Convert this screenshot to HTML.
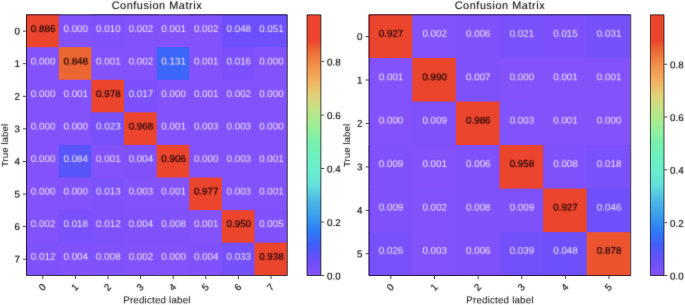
<!DOCTYPE html>
<html><head><meta charset="utf-8"><title>Confusion Matrix</title><style>
html,body{margin:0;padding:0;background:#fff}
body{width:685px;height:305px;position:relative;overflow:hidden;font-family:"Liberation Sans",sans-serif;color:#2b2b2b}
div{position:absolute;white-space:nowrap;line-height:12px;filter:blur(0.3px)}
div>span{display:inline-block;color:transparent;text-shadow:0 0 1.1px #262626,0 0 1.1px rgba(38,38,38,0.25)}
svg{position:absolute;left:0;top:0}
.ct{width:40px;height:20px;line-height:20px;text-align:center;font-size:9.8px;letter-spacing:0.0px}
.yl>span,.xl>span,.cl>span{text-shadow:0 0 1.1px #262626,0 0 1.1px rgba(38,38,38,0.6)}
.title>span{text-shadow:0 0 1.1px #262626,0 0 1.1px rgba(38,38,38,0.45)}
.ct.w>span{text-shadow:0 0 1.2px #ebe2ff,0 0 1.2px rgba(235,226,255,0.3)}
.ct.d>span{text-shadow:0 0 1.2px #2c0a06,0 0 1.2px rgba(44,10,6,0.6)}
.yl{width:20px;text-align:right;font-size:9.8px}
.xl{width:20px;text-align:center;font-size:9.8px}
.cl{font-size:9.8px;letter-spacing:0.05px}
.title{width:160px;text-align:center;font-size:10.9px;line-height:14px;letter-spacing:0.55px}
.xlab{width:160px;text-align:center;font-size:9.8px;letter-spacing:0.18px}
.ylab{width:80px;text-align:center;font-size:9.8px;letter-spacing:0.0px}
</style></head>
<body>
<svg width="685" height="305" viewBox="0 0 685 305">
<clipPath id="c1"><rect x="26.2" y="14.6" width="260.90" height="260.65"/></clipPath><g clip-path="url(#c1)">
<rect x="24.2" y="12.6" width="264.90" height="264.65" fill="#8352fb"/>
<rect x="24.20" y="12.60" width="34.61" height="34.58" fill="#ec452e"/>
<rect x="91.43" y="12.60" width="33.31" height="34.58" fill="#7f52fb"/>
<rect x="124.04" y="12.60" width="32.61" height="35.28" fill="#8252fb"/>
<rect x="189.26" y="12.60" width="33.31" height="34.58" fill="#8252fb"/>
<rect x="221.88" y="12.60" width="33.31" height="35.28" fill="#6e50fa"/>
<rect x="254.49" y="12.60" width="34.61" height="34.58" fill="#6d50fa"/>
<rect x="58.81" y="47.18" width="32.61" height="32.58" fill="#ec6634"/>
<rect x="124.04" y="47.18" width="33.31" height="33.28" fill="#8252fb"/>
<rect x="156.65" y="47.18" width="32.61" height="32.58" fill="#3c67f9"/>
<rect x="221.88" y="47.18" width="32.61" height="33.28" fill="#7c51fb"/>
<rect x="91.43" y="79.76" width="33.31" height="33.28" fill="#ec452e"/>
<rect x="124.04" y="79.76" width="32.61" height="33.28" fill="#7c51fb"/>
<rect x="221.88" y="79.76" width="32.61" height="33.28" fill="#8252fb"/>
<rect x="91.43" y="112.34" width="33.31" height="32.58" fill="#7951fb"/>
<rect x="124.04" y="112.34" width="32.61" height="33.28" fill="#ec452e"/>
<rect x="189.26" y="112.34" width="33.31" height="32.58" fill="#8252fb"/>
<rect x="221.88" y="112.34" width="32.61" height="33.28" fill="#8252fb"/>
<rect x="58.81" y="144.92" width="32.61" height="32.58" fill="#5856fa"/>
<rect x="124.04" y="144.92" width="33.31" height="33.28" fill="#8152fb"/>
<rect x="156.65" y="144.92" width="32.61" height="32.58" fill="#ec452e"/>
<rect x="221.88" y="144.92" width="32.61" height="33.28" fill="#8252fb"/>
<rect x="91.43" y="177.51" width="33.31" height="33.28" fill="#7d52fb"/>
<rect x="124.04" y="177.51" width="32.61" height="33.28" fill="#8252fb"/>
<rect x="189.26" y="177.51" width="33.31" height="32.58" fill="#ec452e"/>
<rect x="221.88" y="177.51" width="32.61" height="33.28" fill="#8252fb"/>
<rect x="24.20" y="210.09" width="35.31" height="33.28" fill="#8252fb"/>
<rect x="58.81" y="210.09" width="33.31" height="33.28" fill="#7b51fb"/>
<rect x="91.43" y="210.09" width="33.31" height="33.28" fill="#7e52fb"/>
<rect x="124.04" y="210.09" width="33.31" height="33.28" fill="#8152fb"/>
<rect x="156.65" y="210.09" width="32.61" height="32.58" fill="#7f52fb"/>
<rect x="221.88" y="210.09" width="33.31" height="33.28" fill="#ec452e"/>
<rect x="254.49" y="210.09" width="34.61" height="33.28" fill="#8152fb"/>
<rect x="24.20" y="242.67" width="35.31" height="34.58" fill="#7e52fb"/>
<rect x="58.81" y="242.67" width="33.31" height="34.58" fill="#8152fb"/>
<rect x="91.43" y="242.67" width="33.31" height="34.58" fill="#7f52fb"/>
<rect x="124.04" y="242.67" width="32.61" height="34.58" fill="#8252fb"/>
<rect x="189.26" y="242.67" width="33.31" height="34.58" fill="#8152fb"/>
<rect x="221.88" y="242.67" width="33.31" height="34.58" fill="#7451fa"/>
<rect x="254.49" y="242.67" width="34.61" height="34.58" fill="#ec452e"/>
</g>
<defs><linearGradient id="g1" x1="0" y1="0" x2="0" y2="1"><stop offset="0.0000" stop-color="#ec452e"/><stop offset="0.0976" stop-color="#ec452e"/><stop offset="0.1359" stop-color="#ec6934"/><stop offset="0.1933" stop-color="#f18f4b"/><stop offset="0.2507" stop-color="#f3af5f"/><stop offset="0.3081" stop-color="#e1d078"/><stop offset="0.3655" stop-color="#bee487"/><stop offset="0.4229" stop-color="#a0ee96"/><stop offset="0.4803" stop-color="#7df0aa"/><stop offset="0.5377" stop-color="#6ef0bc"/><stop offset="0.5951" stop-color="#69eecd"/><stop offset="0.6525" stop-color="#64e1da"/><stop offset="0.7099" stop-color="#4bb9e4"/><stop offset="0.7673" stop-color="#3ca0eb"/><stop offset="0.8247" stop-color="#2d7df5"/><stop offset="0.8821" stop-color="#425efa"/><stop offset="0.9395" stop-color="#6950fa"/><stop offset="1.0000" stop-color="#8352fb"/></linearGradient></defs>
<rect x="307.0" y="14.85" width="13.90" height="260.65" fill="url(#g1)"/>
<path d="M26.5 14.85H287.3V275.5H26.5ZM307.0 14.85H320.9V275.5H307.0ZM26.10 31.14h-3.1M42.80 275.90v3.2M26.10 63.72h-3.1M75.40 275.90v3.2M26.10 96.30h-3.1M108.00 275.90v3.2M26.10 128.88h-3.1M140.60 275.90v3.2M26.10 161.47h-3.1M173.20 275.90v3.2M26.10 194.05h-3.1M205.80 275.90v3.2M26.10 226.63h-3.1M238.40 275.90v3.2M26.10 259.21h-3.1M271.00 275.90v3.2M321.30 275.50h2.9M321.30 222.03h2.9M321.30 168.57h2.9M321.30 115.10h2.9M321.30 61.63h2.9" fill="none" stroke="#000" stroke-opacity="0.74" stroke-width="0.95"/>
<clipPath id="c2"><rect x="368.65" y="14.4" width="261.65" height="261.30"/></clipPath><g clip-path="url(#c2)">
<rect x="366.65" y="12.4" width="265.65" height="265.30" fill="#8352fb"/>
<rect x="366.65" y="12.40" width="46.31" height="45.55" fill="#ec452e"/>
<rect x="412.26" y="12.40" width="44.31" height="46.25" fill="#8252fb"/>
<rect x="455.87" y="12.40" width="44.31" height="46.25" fill="#8052fb"/>
<rect x="499.47" y="12.40" width="44.31" height="45.55" fill="#7a51fb"/>
<rect x="543.08" y="12.40" width="44.31" height="45.55" fill="#7c51fb"/>
<rect x="586.69" y="12.40" width="45.61" height="45.55" fill="#7651fa"/>
<rect x="412.26" y="57.95" width="44.31" height="44.25" fill="#ec452e"/>
<rect x="455.87" y="57.95" width="43.61" height="44.25" fill="#8052fb"/>
<rect x="412.26" y="101.50" width="44.31" height="43.55" fill="#7f52fb"/>
<rect x="455.87" y="101.50" width="44.31" height="44.25" fill="#ec452e"/>
<rect x="499.47" y="101.50" width="43.61" height="44.25" fill="#8252fb"/>
<rect x="366.65" y="145.05" width="45.61" height="44.25" fill="#7f52fb"/>
<rect x="455.87" y="145.05" width="44.31" height="44.25" fill="#8052fb"/>
<rect x="499.47" y="145.05" width="44.31" height="44.25" fill="#ec452e"/>
<rect x="543.08" y="145.05" width="44.31" height="44.25" fill="#8052fb"/>
<rect x="586.69" y="145.05" width="45.61" height="44.25" fill="#7b51fb"/>
<rect x="366.65" y="188.60" width="46.31" height="44.25" fill="#7f52fb"/>
<rect x="412.26" y="188.60" width="44.31" height="44.25" fill="#8252fb"/>
<rect x="455.87" y="188.60" width="44.31" height="44.25" fill="#8052fb"/>
<rect x="499.47" y="188.60" width="44.31" height="44.25" fill="#7f52fb"/>
<rect x="543.08" y="188.60" width="44.31" height="44.25" fill="#ec452e"/>
<rect x="586.69" y="188.60" width="45.61" height="44.25" fill="#6f50fa"/>
<rect x="366.65" y="232.15" width="46.31" height="45.55" fill="#7851fb"/>
<rect x="412.26" y="232.15" width="44.31" height="45.55" fill="#8252fb"/>
<rect x="455.87" y="232.15" width="44.31" height="45.55" fill="#8052fb"/>
<rect x="499.47" y="232.15" width="44.31" height="45.55" fill="#7251fa"/>
<rect x="543.08" y="232.15" width="44.31" height="45.55" fill="#6e50fa"/>
<rect x="586.69" y="232.15" width="45.61" height="45.55" fill="#ec5430"/>
</g>
<defs><linearGradient id="g2" x1="0" y1="0" x2="0" y2="1"><stop offset="0.0000" stop-color="#ec452e"/><stop offset="0.0976" stop-color="#ec452e"/><stop offset="0.1359" stop-color="#ec6934"/><stop offset="0.1933" stop-color="#f18f4b"/><stop offset="0.2507" stop-color="#f3af5f"/><stop offset="0.3081" stop-color="#e1d078"/><stop offset="0.3655" stop-color="#bee487"/><stop offset="0.4229" stop-color="#a0ee96"/><stop offset="0.4803" stop-color="#7df0aa"/><stop offset="0.5377" stop-color="#6ef0bc"/><stop offset="0.5951" stop-color="#69eecd"/><stop offset="0.6525" stop-color="#64e1da"/><stop offset="0.7099" stop-color="#4bb9e4"/><stop offset="0.7673" stop-color="#3ca0eb"/><stop offset="0.8247" stop-color="#2d7df5"/><stop offset="0.8821" stop-color="#425efa"/><stop offset="0.9395" stop-color="#6950fa"/><stop offset="1.0000" stop-color="#8352fb"/></linearGradient></defs>
<rect x="650.4" y="14.85" width="13.60" height="260.65" fill="url(#g2)"/>
<path d="M369.1 14.85H630.75V275.5H369.1ZM650.4 14.85H664.0V275.5H650.4ZM368.70 36.57h-3.1M390.90 275.90v3.2M368.70 80.01h-3.1M434.51 275.90v3.2M368.70 123.45h-3.1M478.12 275.90v3.2M368.70 166.90h-3.1M521.73 275.90v3.2M368.70 210.34h-3.1M565.34 275.90v3.2M368.70 253.78h-3.1M608.95 275.90v3.2M664.40 275.50h2.9M664.40 222.68h2.9M664.40 169.87h2.9M664.40 117.05h2.9M664.40 64.23h2.9" fill="none" stroke="#000" stroke-opacity="0.74" stroke-width="0.95"/>
</svg>
<div class="ct d" style="left:22px;top:18px"><span style="transform:translate(0.86px,0.99px) rotate(0.03deg)">0.886</span></div>
<div class="ct w" style="left:55px;top:18px"><span style="transform:translate(0.47px,0.99px) rotate(0.03deg)">0.000</span></div>
<div class="ct w" style="left:88px;top:18px"><span style="transform:translate(0.08px,0.99px) rotate(0.03deg)">0.010</span></div>
<div class="ct w" style="left:120px;top:18px"><span style="transform:translate(0.69px,0.99px) rotate(0.03deg)">0.002</span></div>
<div class="ct w" style="left:153px;top:18px"><span style="transform:translate(0.31px,0.99px) rotate(0.03deg)">0.001</span></div>
<div class="ct w" style="left:185px;top:18px"><span style="transform:translate(0.92px,0.99px) rotate(0.03deg)">0.002</span></div>
<div class="ct w" style="left:218px;top:18px"><span style="transform:translate(0.53px,0.99px) rotate(0.03deg)">0.048</span></div>
<div class="ct w" style="left:251px;top:18px"><span style="transform:translate(0.14px,0.99px) rotate(0.03deg)">0.051</span></div>
<div class="ct w" style="left:22px;top:51px"><span style="transform:translate(0.86px,0.51px) rotate(0.03deg)">0.000</span></div>
<div class="ct d" style="left:55px;top:51px"><span style="transform:translate(0.47px,0.51px) rotate(0.03deg)">0.848</span></div>
<div class="ct w" style="left:88px;top:51px"><span style="transform:translate(0.08px,0.51px) rotate(0.03deg)">0.001</span></div>
<div class="ct w" style="left:120px;top:51px"><span style="transform:translate(0.69px,0.51px) rotate(0.03deg)">0.002</span></div>
<div class="ct w" style="left:153px;top:51px"><span style="transform:translate(0.31px,0.51px) rotate(0.03deg)">0.131</span></div>
<div class="ct w" style="left:185px;top:51px"><span style="transform:translate(0.92px,0.51px) rotate(0.03deg)">0.001</span></div>
<div class="ct w" style="left:218px;top:51px"><span style="transform:translate(0.53px,0.51px) rotate(0.03deg)">0.016</span></div>
<div class="ct w" style="left:251px;top:51px"><span style="transform:translate(0.14px,0.51px) rotate(0.03deg)">0.000</span></div>
<div class="ct w" style="left:22px;top:84px"><span style="transform:translate(0.86px,0.03px) rotate(0.03deg)">0.000</span></div>
<div class="ct w" style="left:55px;top:84px"><span style="transform:translate(0.47px,0.03px) rotate(0.03deg)">0.001</span></div>
<div class="ct d" style="left:88px;top:84px"><span style="transform:translate(0.08px,0.03px) rotate(0.03deg)">0.978</span></div>
<div class="ct w" style="left:120px;top:84px"><span style="transform:translate(0.69px,0.03px) rotate(0.03deg)">0.017</span></div>
<div class="ct w" style="left:153px;top:84px"><span style="transform:translate(0.31px,0.03px) rotate(0.03deg)">0.000</span></div>
<div class="ct w" style="left:185px;top:84px"><span style="transform:translate(0.92px,0.03px) rotate(0.03deg)">0.001</span></div>
<div class="ct w" style="left:218px;top:84px"><span style="transform:translate(0.53px,0.03px) rotate(0.03deg)">0.002</span></div>
<div class="ct w" style="left:251px;top:84px"><span style="transform:translate(0.14px,0.03px) rotate(0.03deg)">0.000</span></div>
<div class="ct w" style="left:22px;top:116px"><span style="transform:translate(0.86px,0.55px) rotate(0.03deg)">0.000</span></div>
<div class="ct w" style="left:55px;top:116px"><span style="transform:translate(0.47px,0.55px) rotate(0.03deg)">0.000</span></div>
<div class="ct w" style="left:88px;top:116px"><span style="transform:translate(0.08px,0.55px) rotate(0.03deg)">0.023</span></div>
<div class="ct d" style="left:120px;top:116px"><span style="transform:translate(0.69px,0.55px) rotate(0.03deg)">0.968</span></div>
<div class="ct w" style="left:153px;top:116px"><span style="transform:translate(0.31px,0.55px) rotate(0.03deg)">0.001</span></div>
<div class="ct w" style="left:185px;top:116px"><span style="transform:translate(0.92px,0.55px) rotate(0.03deg)">0.003</span></div>
<div class="ct w" style="left:218px;top:116px"><span style="transform:translate(0.53px,0.55px) rotate(0.03deg)">0.003</span></div>
<div class="ct w" style="left:251px;top:116px"><span style="transform:translate(0.14px,0.55px) rotate(0.03deg)">0.000</span></div>
<div class="ct w" style="left:22px;top:149px"><span style="transform:translate(0.86px,0.08px) rotate(0.03deg)">0.000</span></div>
<div class="ct w" style="left:55px;top:149px"><span style="transform:translate(0.47px,0.08px) rotate(0.03deg)">0.084</span></div>
<div class="ct w" style="left:88px;top:149px"><span style="transform:translate(0.08px,0.08px) rotate(0.03deg)">0.001</span></div>
<div class="ct w" style="left:120px;top:149px"><span style="transform:translate(0.69px,0.08px) rotate(0.03deg)">0.004</span></div>
<div class="ct d" style="left:153px;top:149px"><span style="transform:translate(0.31px,0.08px) rotate(0.03deg)">0.906</span></div>
<div class="ct w" style="left:185px;top:149px"><span style="transform:translate(0.92px,0.08px) rotate(0.03deg)">0.000</span></div>
<div class="ct w" style="left:218px;top:149px"><span style="transform:translate(0.53px,0.08px) rotate(0.03deg)">0.003</span></div>
<div class="ct w" style="left:251px;top:149px"><span style="transform:translate(0.14px,0.08px) rotate(0.03deg)">0.001</span></div>
<div class="ct w" style="left:22px;top:181px"><span style="transform:translate(0.86px,0.60px) rotate(0.03deg)">0.000</span></div>
<div class="ct w" style="left:55px;top:181px"><span style="transform:translate(0.47px,0.60px) rotate(0.03deg)">0.000</span></div>
<div class="ct w" style="left:88px;top:181px"><span style="transform:translate(0.08px,0.60px) rotate(0.03deg)">0.013</span></div>
<div class="ct w" style="left:120px;top:181px"><span style="transform:translate(0.69px,0.60px) rotate(0.03deg)">0.003</span></div>
<div class="ct w" style="left:153px;top:181px"><span style="transform:translate(0.31px,0.60px) rotate(0.03deg)">0.001</span></div>
<div class="ct d" style="left:185px;top:181px"><span style="transform:translate(0.92px,0.60px) rotate(0.03deg)">0.977</span></div>
<div class="ct w" style="left:218px;top:181px"><span style="transform:translate(0.53px,0.60px) rotate(0.03deg)">0.003</span></div>
<div class="ct w" style="left:251px;top:181px"><span style="transform:translate(0.14px,0.60px) rotate(0.03deg)">0.001</span></div>
<div class="ct w" style="left:22px;top:214px"><span style="transform:translate(0.86px,0.12px) rotate(0.03deg)">0.002</span></div>
<div class="ct w" style="left:55px;top:214px"><span style="transform:translate(0.47px,0.12px) rotate(0.03deg)">0.018</span></div>
<div class="ct w" style="left:88px;top:214px"><span style="transform:translate(0.08px,0.12px) rotate(0.03deg)">0.012</span></div>
<div class="ct w" style="left:120px;top:214px"><span style="transform:translate(0.69px,0.12px) rotate(0.03deg)">0.004</span></div>
<div class="ct w" style="left:153px;top:214px"><span style="transform:translate(0.31px,0.12px) rotate(0.03deg)">0.008</span></div>
<div class="ct w" style="left:185px;top:214px"><span style="transform:translate(0.92px,0.12px) rotate(0.03deg)">0.001</span></div>
<div class="ct d" style="left:218px;top:214px"><span style="transform:translate(0.53px,0.12px) rotate(0.03deg)">0.950</span></div>
<div class="ct w" style="left:251px;top:214px"><span style="transform:translate(0.14px,0.12px) rotate(0.03deg)">0.005</span></div>
<div class="ct w" style="left:22px;top:246px"><span style="transform:translate(0.86px,0.64px) rotate(0.03deg)">0.012</span></div>
<div class="ct w" style="left:55px;top:246px"><span style="transform:translate(0.47px,0.64px) rotate(0.03deg)">0.004</span></div>
<div class="ct w" style="left:88px;top:246px"><span style="transform:translate(0.08px,0.64px) rotate(0.03deg)">0.008</span></div>
<div class="ct w" style="left:120px;top:246px"><span style="transform:translate(0.69px,0.64px) rotate(0.03deg)">0.002</span></div>
<div class="ct w" style="left:153px;top:246px"><span style="transform:translate(0.31px,0.64px) rotate(0.03deg)">0.000</span></div>
<div class="ct w" style="left:185px;top:246px"><span style="transform:translate(0.92px,0.64px) rotate(0.03deg)">0.004</span></div>
<div class="ct w" style="left:218px;top:246px"><span style="transform:translate(0.53px,0.64px) rotate(0.03deg)">0.033</span></div>
<div class="ct d" style="left:251px;top:246px"><span style="transform:translate(0.14px,0.64px) rotate(0.03deg)">0.938</span></div>
<div class="yl" style="left:-1px;top:25px"><span style="transform:translate(0.45px,0.54px) rotate(0.03deg)">0</span></div>
<div class="xl" style="left:32px;top:281px"><span style="transform:translate(0.80px,0.50px) rotate(-45deg)">0</span></div>
<div class="yl" style="left:-1px;top:58px"><span style="transform:translate(0.45px,0.12px) rotate(0.03deg)">1</span></div>
<div class="xl" style="left:65px;top:281px"><span style="transform:translate(0.40px,0.50px) rotate(-45deg)">1</span></div>
<div class="yl" style="left:-1px;top:90px"><span style="transform:translate(0.45px,0.70px) rotate(0.03deg)">2</span></div>
<div class="xl" style="left:98px;top:281px"><span style="transform:translate(0.00px,0.50px) rotate(-45deg)">2</span></div>
<div class="yl" style="left:-1px;top:123px"><span style="transform:translate(0.45px,0.28px) rotate(0.03deg)">3</span></div>
<div class="xl" style="left:130px;top:281px"><span style="transform:translate(0.60px,0.50px) rotate(-45deg)">3</span></div>
<div class="yl" style="left:-1px;top:155px"><span style="transform:translate(0.45px,0.87px) rotate(0.03deg)">4</span></div>
<div class="xl" style="left:163px;top:281px"><span style="transform:translate(0.20px,0.50px) rotate(-45deg)">4</span></div>
<div class="yl" style="left:-1px;top:188px"><span style="transform:translate(0.45px,0.45px) rotate(0.03deg)">5</span></div>
<div class="xl" style="left:195px;top:281px"><span style="transform:translate(0.80px,0.50px) rotate(-45deg)">5</span></div>
<div class="yl" style="left:-1px;top:221px"><span style="transform:translate(0.45px,0.03px) rotate(0.03deg)">6</span></div>
<div class="xl" style="left:228px;top:281px"><span style="transform:translate(0.40px,0.50px) rotate(-45deg)">6</span></div>
<div class="yl" style="left:-1px;top:253px"><span style="transform:translate(0.45px,0.61px) rotate(0.03deg)">7</span></div>
<div class="xl" style="left:261px;top:281px"><span style="transform:translate(0.00px,0.50px) rotate(-45deg)">7</span></div>
<div class="cl" style="left:327px;top:270px"><span style="transform:translate(0.00px,0.45px) rotate(0.03deg)">0.0</span></div>
<div class="cl" style="left:327px;top:216px"><span style="transform:translate(0.00px,0.98px) rotate(0.03deg)">0.2</span></div>
<div class="cl" style="left:327px;top:163px"><span style="transform:translate(0.00px,0.52px) rotate(0.03deg)">0.4</span></div>
<div class="cl" style="left:327px;top:110px"><span style="transform:translate(0.00px,0.05px) rotate(0.03deg)">0.6</span></div>
<div class="cl" style="left:327px;top:56px"><span style="transform:translate(0.00px,0.58px) rotate(0.03deg)">0.8</span></div>
<div class="title" style="left:76px;top:-2px"><span style="transform:translate(0.65px,0.00px) rotate(0.03deg)">Confusion Matrix</span></div>
<div class="xlab" style="left:77px;top:294px"><span style="transform:translate(0.20px,0.30px) rotate(0.03deg)">Predicted label</span></div>
<div class="ylab" style="left:-35px;top:139px"><span style="transform:translate(0.70px,0.48px) rotate(-90deg)">True label</span></div>
<div class="ct d" style="left:370px;top:23px"><span style="transform:translate(0.80px,0.78px) rotate(0.03deg)">0.927</span></div>
<div class="ct w" style="left:414px;top:23px"><span style="transform:translate(0.41px,0.78px) rotate(0.03deg)">0.002</span></div>
<div class="ct w" style="left:458px;top:23px"><span style="transform:translate(0.02px,0.78px) rotate(0.03deg)">0.006</span></div>
<div class="ct w" style="left:501px;top:23px"><span style="transform:translate(0.63px,0.78px) rotate(0.03deg)">0.021</span></div>
<div class="ct w" style="left:545px;top:23px"><span style="transform:translate(0.24px,0.78px) rotate(0.03deg)">0.015</span></div>
<div class="ct w" style="left:588px;top:23px"><span style="transform:translate(0.85px,0.78px) rotate(0.03deg)">0.031</span></div>
<div class="ct w" style="left:370px;top:67px"><span style="transform:translate(0.80px,0.19px) rotate(0.03deg)">0.001</span></div>
<div class="ct d" style="left:414px;top:67px"><span style="transform:translate(0.41px,0.19px) rotate(0.03deg)">0.990</span></div>
<div class="ct w" style="left:458px;top:67px"><span style="transform:translate(0.02px,0.19px) rotate(0.03deg)">0.007</span></div>
<div class="ct w" style="left:501px;top:67px"><span style="transform:translate(0.63px,0.19px) rotate(0.03deg)">0.000</span></div>
<div class="ct w" style="left:545px;top:67px"><span style="transform:translate(0.24px,0.19px) rotate(0.03deg)">0.001</span></div>
<div class="ct w" style="left:588px;top:67px"><span style="transform:translate(0.85px,0.19px) rotate(0.03deg)">0.001</span></div>
<div class="ct w" style="left:370px;top:110px"><span style="transform:translate(0.80px,0.60px) rotate(0.03deg)">0.000</span></div>
<div class="ct w" style="left:414px;top:110px"><span style="transform:translate(0.41px,0.60px) rotate(0.03deg)">0.009</span></div>
<div class="ct d" style="left:458px;top:110px"><span style="transform:translate(0.02px,0.60px) rotate(0.03deg)">0.986</span></div>
<div class="ct w" style="left:501px;top:110px"><span style="transform:translate(0.63px,0.60px) rotate(0.03deg)">0.003</span></div>
<div class="ct w" style="left:545px;top:110px"><span style="transform:translate(0.24px,0.60px) rotate(0.03deg)">0.001</span></div>
<div class="ct w" style="left:588px;top:110px"><span style="transform:translate(0.85px,0.60px) rotate(0.03deg)">0.000</span></div>
<div class="ct w" style="left:370px;top:154px"><span style="transform:translate(0.80px,0.01px) rotate(0.03deg)">0.009</span></div>
<div class="ct w" style="left:414px;top:154px"><span style="transform:translate(0.41px,0.01px) rotate(0.03deg)">0.001</span></div>
<div class="ct w" style="left:458px;top:154px"><span style="transform:translate(0.02px,0.01px) rotate(0.03deg)">0.006</span></div>
<div class="ct d" style="left:501px;top:154px"><span style="transform:translate(0.63px,0.01px) rotate(0.03deg)">0.958</span></div>
<div class="ct w" style="left:545px;top:154px"><span style="transform:translate(0.24px,0.01px) rotate(0.03deg)">0.008</span></div>
<div class="ct w" style="left:588px;top:154px"><span style="transform:translate(0.85px,0.01px) rotate(0.03deg)">0.018</span></div>
<div class="ct w" style="left:370px;top:197px"><span style="transform:translate(0.80px,0.42px) rotate(0.03deg)">0.009</span></div>
<div class="ct w" style="left:414px;top:197px"><span style="transform:translate(0.41px,0.42px) rotate(0.03deg)">0.002</span></div>
<div class="ct w" style="left:458px;top:197px"><span style="transform:translate(0.02px,0.42px) rotate(0.03deg)">0.008</span></div>
<div class="ct w" style="left:501px;top:197px"><span style="transform:translate(0.63px,0.42px) rotate(0.03deg)">0.009</span></div>
<div class="ct d" style="left:545px;top:197px"><span style="transform:translate(0.24px,0.42px) rotate(0.03deg)">0.927</span></div>
<div class="ct w" style="left:588px;top:197px"><span style="transform:translate(0.85px,0.42px) rotate(0.03deg)">0.046</span></div>
<div class="ct w" style="left:370px;top:240px"><span style="transform:translate(0.80px,0.83px) rotate(0.03deg)">0.026</span></div>
<div class="ct w" style="left:414px;top:240px"><span style="transform:translate(0.41px,0.83px) rotate(0.03deg)">0.003</span></div>
<div class="ct w" style="left:458px;top:240px"><span style="transform:translate(0.02px,0.83px) rotate(0.03deg)">0.006</span></div>
<div class="ct w" style="left:501px;top:240px"><span style="transform:translate(0.63px,0.83px) rotate(0.03deg)">0.039</span></div>
<div class="ct w" style="left:545px;top:240px"><span style="transform:translate(0.24px,0.83px) rotate(0.03deg)">0.048</span></div>
<div class="ct d" style="left:588px;top:240px"><span style="transform:translate(0.85px,0.83px) rotate(0.03deg)">0.878</span></div>
<div class="yl" style="left:342px;top:30px"><span style="transform:translate(0.05px,0.97px) rotate(0.03deg)">0</span></div>
<div class="xl" style="left:380px;top:281px"><span style="transform:translate(0.90px,0.50px) rotate(-45deg)">0</span></div>
<div class="yl" style="left:342px;top:74px"><span style="transform:translate(0.05px,0.41px) rotate(0.03deg)">1</span></div>
<div class="xl" style="left:424px;top:281px"><span style="transform:translate(0.51px,0.50px) rotate(-45deg)">1</span></div>
<div class="yl" style="left:342px;top:117px"><span style="transform:translate(0.05px,0.85px) rotate(0.03deg)">2</span></div>
<div class="xl" style="left:468px;top:281px"><span style="transform:translate(0.12px,0.50px) rotate(-45deg)">2</span></div>
<div class="yl" style="left:342px;top:161px"><span style="transform:translate(0.05px,0.30px) rotate(0.03deg)">3</span></div>
<div class="xl" style="left:511px;top:281px"><span style="transform:translate(0.73px,0.50px) rotate(-45deg)">3</span></div>
<div class="yl" style="left:342px;top:204px"><span style="transform:translate(0.05px,0.74px) rotate(0.03deg)">4</span></div>
<div class="xl" style="left:555px;top:281px"><span style="transform:translate(0.34px,0.50px) rotate(-45deg)">4</span></div>
<div class="yl" style="left:342px;top:248px"><span style="transform:translate(0.05px,0.18px) rotate(0.03deg)">5</span></div>
<div class="xl" style="left:598px;top:281px"><span style="transform:translate(0.95px,0.50px) rotate(-45deg)">5</span></div>
<div class="cl" style="left:670px;top:270px"><span style="transform:translate(0.10px,0.45px) rotate(0.03deg)">0.0</span></div>
<div class="cl" style="left:670px;top:217px"><span style="transform:translate(0.10px,0.63px) rotate(0.03deg)">0.2</span></div>
<div class="cl" style="left:670px;top:164px"><span style="transform:translate(0.10px,0.82px) rotate(0.03deg)">0.4</span></div>
<div class="cl" style="left:670px;top:112px"><span style="transform:translate(0.10px,0.00px) rotate(0.03deg)">0.6</span></div>
<div class="cl" style="left:670px;top:59px"><span style="transform:translate(0.10px,0.18px) rotate(0.03deg)">0.8</span></div>
<div class="title" style="left:419px;top:-2px"><span style="transform:translate(0.68px,0.00px) rotate(0.03deg)">Confusion Matrix</span></div>
<div class="xlab" style="left:420px;top:294px"><span style="transform:translate(0.23px,0.30px) rotate(0.03deg)">Predicted label</span></div>
<div class="ylab" style="left:307px;top:139px"><span style="transform:translate(0.50px,0.48px) rotate(-90deg)">True label</span></div>
</body></html>
